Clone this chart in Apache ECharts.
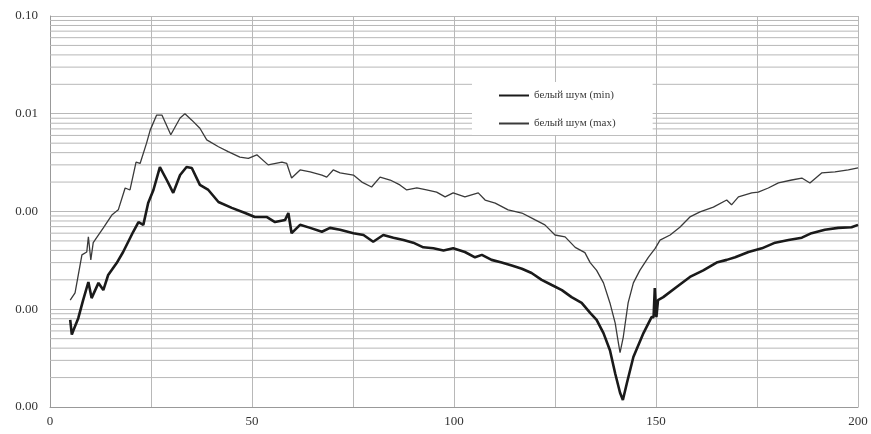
<!DOCTYPE html>
<html>
<head>
<meta charset="utf-8">
<script src="https://cdn.jsdelivr.net/npm/echarts@6/dist/echarts.min.js"></script>
<style>html,body{margin:0;padding:0;background:#fff}#c{width:871px;height:434px}</style>
</head>
<body>
<div id="c"></div>
<script>
// Series names
const seriesNames = ['белый шум (min)', 'белый шум (max)'];

// "белый шум (max)" – x positions and values
const maxX = [5.0,6.2,7.9,9.1,9.5,10.1,10.7,13.2,15.3,16.9,18.6,19.8,21.3,22.3,23.9,24.8,26.4,27.7,29.9,32.2,33.4,35.1,37.1,38.8,41.7,44.1,47.0,49.1,51.2,54.0,57.4,58.6,59.8,61.9,64.4,67.3,68.5,70.1,71.8,75.1,77.2,79.6,81.7,84.2,86.6,88.3,90.8,93.2,95.7,97.8,99.8,102.7,106.0,107.7,110.2,113.4,116.8,120.1,122.5,125.0,127.5,130.0,132.4,133.7,135.3,137.0,138.6,139.9,140.7,141.1,141.9,143.1,144.4,146.0,148.1,149.8,151.0,153.5,155.9,158.4,160.9,164.2,167.5,168.7,170.4,173.7,175.3,177.8,180.3,183.6,186.1,188.1,191.0,194.3,197.6,200.0];
const maxY = [1.24e-4,1.47e-4,3.6e-4,3.85e-4,5.5e-4,3.2e-4,4.8e-4,6.8e-4,9.2e-4,1.04e-3,1.74e-3,1.66e-3,3.2e-3,3.1e-3,5.0e-3,6.8e-3,9.7e-3,9.7e-3,6.1e-3,9.05e-3,1.0e-2,8.6e-3,7.1e-3,5.4e-3,4.6e-3,4.1e-3,3.6e-3,3.5e-3,3.8e-3,3.0e-3,3.2e-3,3.1e-3,2.2e-3,2.66e-3,2.54e-3,2.36e-3,2.25e-3,2.66e-3,2.48e-3,2.36e-3,2.0e-3,1.78e-3,2.25e-3,2.1e-3,1.87e-3,1.66e-3,1.74e-3,1.66e-3,1.58e-3,1.41e-3,1.55e-3,1.41e-3,1.55e-3,1.31e-3,1.22e-3,1.04e-3,9.65e-4,8.2e-4,7.3e-4,5.75e-4,5.5e-4,4.3e-4,3.8e-4,3.0e-4,2.5e-4,1.86e-4,1.16e-4,7.2e-5,4.5e-5,3.6e-5,5.2e-5,1.16e-4,1.86e-4,2.5e-4,3.4e-4,4.2e-4,5.1e-4,5.75e-4,6.9e-4,8.8e-4,9.9e-4,1.11e-3,1.31e-3,1.17e-3,1.41e-3,1.55e-3,1.58e-3,1.74e-3,1.96e-3,2.1e-3,2.2e-3,1.96e-3,2.48e-3,2.54e-3,2.66e-3,2.79e-3];

// "белый шум (min)" – x positions and values
const minX = [5.0,5.4,5.8,7.0,8.2,9.5,10.3,12.0,13.2,14.4,16.5,18.1,20.6,21.9,23.1,24.3,25.6,27.2,28.9,30.5,32.2,33.8,35.1,37.1,39.2,41.7,45.0,48.3,50.7,53.6,55.7,58.2,59.0,59.8,61.9,64.4,67.3,69.3,71.8,75.1,77.6,80.0,82.5,85.0,87.5,89.9,92.4,94.9,97.4,99.8,102.7,105.2,106.9,109.3,111.8,114.3,116.8,119.2,121.7,124.2,126.7,129.1,131.6,133.7,135.3,137.0,138.6,139.9,141.1,141.8,142.8,144.4,146.9,148.9,149.4,149.7,150.1,150.5,151.8,155.1,158.4,161.7,165.0,167.5,169.6,172.9,176.2,179.5,182.8,186.1,188.5,191.8,195.1,198.4,200.0];
const minY = [7.8e-5,5.5e-5,6.1e-5,8.1e-5,1.24e-4,1.9e-4,1.3e-4,1.86e-4,1.57e-4,2.24e-4,2.97e-4,3.85e-4,6.2e-4,7.8e-4,7.3e-4,1.22e-3,1.66e-3,2.85e-3,2.1e-3,1.55e-3,2.36e-3,2.85e-3,2.79e-3,1.87e-3,1.66e-3,1.25e-3,1.09e-3,9.65e-4,8.8e-4,8.8e-4,7.8e-4,8.2e-4,9.65e-4,6.0e-4,7.3e-4,6.8e-4,6.2e-4,6.8e-4,6.5e-4,6.0e-4,5.75e-4,4.9e-4,5.75e-4,5.4e-4,5.1e-4,4.8e-4,4.3e-4,4.2e-4,4.0e-4,4.2e-4,3.85e-4,3.4e-4,3.6e-4,3.2e-4,3.0e-4,2.8e-4,2.6e-4,2.35e-4,2.0e-4,1.77e-4,1.57e-4,1.33e-4,1.16e-4,9.2e-5,7.8e-5,5.7e-5,3.8e-5,2.2e-5,1.4e-5,1.18e-5,1.76e-5,3.25e-5,5.7e-5,8.3e-5,8.3e-5,1.65e-4,8.3e-5,1.24e-4,1.33e-4,1.69e-4,2.14e-4,2.5e-4,3.0e-4,3.2e-4,3.4e-4,3.85e-4,4.2e-4,4.8e-4,5.1e-4,5.4e-4,6.0e-4,6.5e-4,6.8e-4,6.9e-4,7.3e-4];

// Axis settings
const xRange = [0, 200];
const xTicks = [0, 50, 100, 150, 200];
const yDecades = [1e-5, 1e-4, 1e-3, 1e-2, 1e-1];
const minorMultipliers = [2, 3, 4, 5, 6, 7, 8, 9];

function pairs(xs, ys) { return xs.map((x, i) => [x, ys[i]]); }

const gridColor = '#b8b8b8';
const font = '"Liberation Serif", "DejaVu Serif", serif';

// minor (2..9) log gridlines, drawn as plain horizontal lines through the axes
const gridSeries = [];
for (let d = 0; d < yDecades.length - 1; d++) {
  for (const m of minorMultipliers) {
    const v = yDecades[d] * m;
    gridSeries.push({
      type: 'line', silent: true, symbol: 'none', z: 1,
      data: [[xRange[0], v], [xRange[1], v]],
      lineStyle: { color: gridColor, width: 1 },
      emphasis: { disabled: true }, tooltip: { show: false }
    });
  }
}

const chart = echarts.init(document.getElementById('c'), null, { renderer: 'canvas' });
chart.setOption({
  animation: false,
  backgroundColor: '#fff',
  grid: { left: 50, right: 13, top: 16, bottom: 27, containLabel: false },
  legend: {
    orient: 'vertical',
    left: 472, top: 82,
    padding: [8, 37, 6, 26],
    itemGap: 17,
    itemWidth: 30, itemHeight: 12,
    backgroundColor: '#fff',
    data: seriesNames,
    itemStyle: { opacity: 0 },
    textStyle: { fontFamily: font, fontSize: 11, color: '#3a3a3a' }
  },
  xAxis: {
    type: 'value', min: xRange[0], max: xRange[1], interval: 25,
    axisLine: { show: true, lineStyle: { color: '#999', width: 1 } },
    axisTick: { show: false },
    axisLabel: {
      fontFamily: font, fontSize: 13, color: '#333', margin: 8,
      formatter: v => (xTicks.indexOf(v) >= 0 ? String(v) : '')
    },
    splitLine: { show: true, lineStyle: { color: gridColor, width: 1 } }
  },
  yAxis: {
    type: 'log', logBase: 10, min: yDecades[0], max: yDecades[yDecades.length - 1],
    axisLine: { show: true, lineStyle: { color: '#999', width: 1 } },
    axisTick: { show: false },
    axisLabel: {
      fontFamily: font, fontSize: 13, color: '#333', margin: 12,
      formatter: v => Number(v).toFixed(2)
    },
    splitLine: { show: true, lineStyle: { color: gridColor, width: 1 } }
  },
  series: [
    {
      name: seriesNames[0], type: 'line', data: pairs(minX, minY),
      symbol: 'none', smooth: false, z: 3,
      lineStyle: { color: '#1a1a1a', width: 2.6 },
      itemStyle: { color: '#1a1a1a' }
    },
    {
      name: seriesNames[1], type: 'line', data: pairs(maxX, maxY),
      symbol: 'none', smooth: false, z: 3,
      lineStyle: { color: '#3a3a3a', width: 1.3 },
      itemStyle: { color: '#3a3a3a' }
    }
  ].concat(gridSeries)
});
</script>
</body>
</html>
